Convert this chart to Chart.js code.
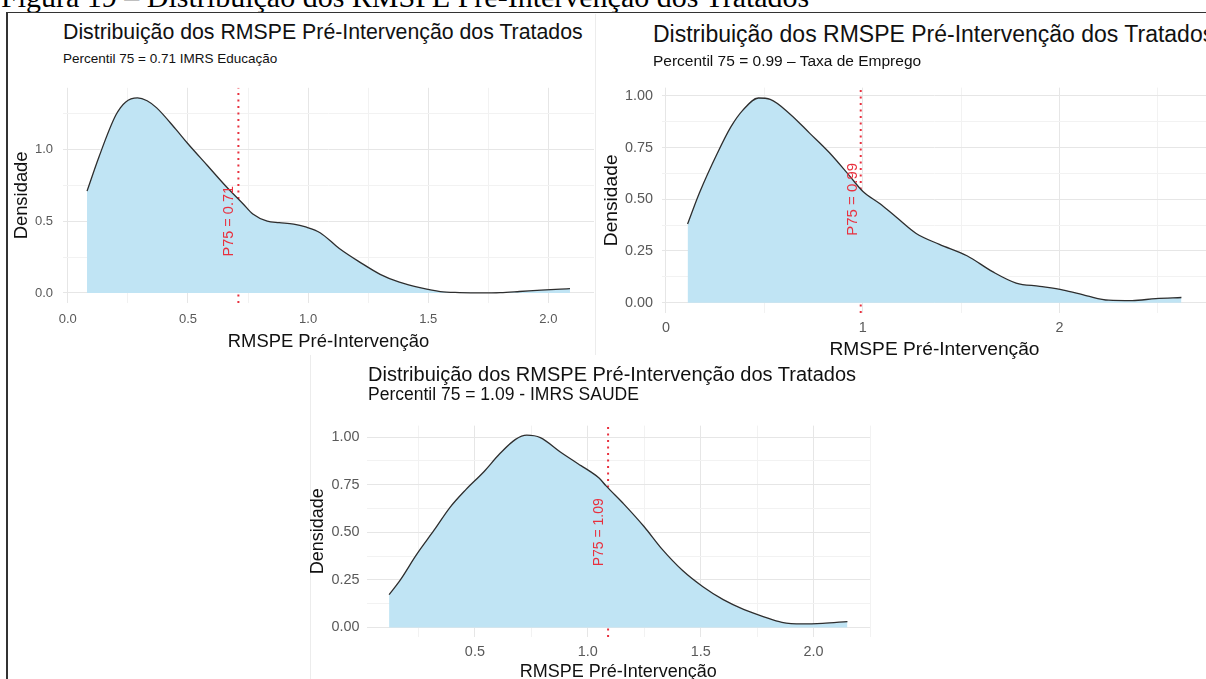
<!DOCTYPE html>
<html lang="pt-BR">
<head>
<meta charset="utf-8">
<title>Distribuição dos RMSPE Pré-Intervenção dos Tratados</title>
<script src="https://cdn.jsdelivr.net/npm/chart.js@4.4.1/dist/chart.umd.min.js"></script>
<style>
  html, body { margin: 0; padding: 0; background: #fff; overflow: hidden; width: 1206px; height: 679px; }
  body { position: relative; font-family: "Liberation Sans", Arial, sans-serif; }
  .heading { position: absolute; left: 1px; top: -18.5px; font: 30px/1 "Liberation Serif", "Times New Roman", serif; white-space: nowrap; color: #000; }
  .frame-top { position: absolute; left: 7px; top: 12px; width: 1199px; height: 0; border-top: 1.5px solid #333; }
  .frame-left { position: absolute; left: 6px; top: 12px; width: 0; height: 667px; border-left: 2px solid #333; }
  .edge { position: absolute; background: #ececec; }
  .title, .subtitle { position: absolute; white-space: nowrap; color: #111; line-height: 1; }
  canvas { position: absolute; }
</style>
</head>
<body>
<div class="heading">Figura 19 – Distribuição dos RMSPE Pré-Intervenção dos Tratados</div>
<div class="frame-top"></div>
<div class="frame-left"></div>
<div class="edge" style="left:595px; top:14px; width:1px; height:341px;"></div>
<div class="edge" style="left:310px; top:355px; width:1px; height:324px;"></div>

<div class="title" id="t1" style="left:63px; top:22px; font-size:21.3px;"></div>
<div class="subtitle" id="s1" style="left:63px; top:52px; font-size:13.5px;"></div>
<canvas id="c1" width="600" height="290" style="left:0; top:70px;"></canvas>

<div class="title" id="t2" style="left:653px; top:23px; font-size:23px;"></div>
<div class="subtitle" id="s2" style="left:653px; top:53px; font-size:15.5px;"></div>
<canvas id="c2" width="612" height="300" style="left:595px; top:70px;"></canvas>

<div class="title" id="t3" style="left:368px; top:364px; font-size:20px;"></div>
<div class="subtitle" id="s3" style="left:368px; top:386px; font-size:17.5px;"></div>
<canvas id="c3" width="575" height="280" style="left:305px; top:410px;"></canvas>

<script>
// densidade do RMSPE pré-intervenção - IMRS Educação
const eduX = [0.08, 0.13, 0.20, 0.24, 0.29, 0.33, 0.37, 0.45, 0.50, 0.58, 0.66, 0.73, 0.77, 0.83, 0.88, 0.94, 0.99,
  1.05, 1.13, 1.22, 1.30, 1.38, 1.47, 1.55, 1.63, 1.72, 1.80, 1.88, 1.97, 2.05, 2.09];
const eduY = [0.71, 0.95, 1.24, 1.33, 1.36, 1.34, 1.29, 1.14, 1.04, 0.89, 0.74, 0.62, 0.55, 0.50, 0.49, 0.48, 0.46,
  0.42, 0.31, 0.21, 0.13, 0.075, 0.035, 0.01, 0.003, 0.0, 0.002, 0.01, 0.02, 0.027, 0.03];

// densidade - Taxa de Emprego
const empX = [0.11, 0.17, 0.26, 0.33, 0.39, 0.47, 0.53, 0.63, 0.73, 0.83, 0.93, 1.00, 1.09, 1.17, 1.27, 1.39,
  1.53, 1.66, 1.78, 1.90, 2.02, 2.14, 2.25, 2.37, 2.49, 2.62];
const empY = [0.38, 0.53, 0.72, 0.85, 0.93, 0.99, 0.983, 0.913, 0.82, 0.726, 0.617, 0.539, 0.477, 0.414, 0.336, 0.282,
  0.227, 0.15, 0.095, 0.079, 0.061, 0.033, 0.012, 0.01, 0.02, 0.025];

// densidade - IMRS Saúde
const saudeX = [0.12, 0.17, 0.24, 0.32, 0.39, 0.46, 0.54, 0.61, 0.68, 0.73, 0.79, 0.88, 0.97, 1.01, 1.05, 1.08,
  1.16, 1.25, 1.33, 1.42, 1.51, 1.60, 1.69, 1.78, 1.86, 1.95, 2.04, 2.15];
const saudeY = [0.172, 0.25, 0.38, 0.512, 0.631, 0.724, 0.818, 0.912, 0.988, 1.01, 0.997, 0.92, 0.85, 0.82, 0.785, 0.745,
  0.648, 0.529, 0.41, 0.299, 0.214, 0.146, 0.095, 0.056, 0.027, 0.019, 0.022, 0.031];

// percentil 75 de cada distribuição
const p75Edu = 0.71;
const p75Emp = 0.99;
const p75Saude = 1.09;

// ticks principais e seus rótulos
const eduXTicks = [0, 0.5, 1, 1.5, 2];
const eduXLabels = ["0.0", "0.5", "1.0", "1.5", "2.0"];
const eduYTicks = [0, 0.5, 1];
const eduYLabels = ["0.0", "0.5", "1.0"];
const empXTicks = [0, 1, 2];
const empXLabels = ["0", "1", "2"];
const empYTicks = [0, 0.25, 0.5, 0.75, 1];
const empYLabels = ["0.00", "0.25", "0.50", "0.75", "1.00"];
const saudeXTicks = [0.5, 1, 1.5, 2];
const saudeXLabels = ["0.5", "1.0", "1.5", "2.0"];
const saudeYTicks = [0, 0.25, 0.5, 0.75, 1];
const saudeYLabels = ["0.00", "0.25", "0.50", "0.75", "1.00"];

const TITLE = "Distribuição dos RMSPE Pré-Intervenção dos Tratados";
const FILL = "#c0e4f4";
const LINE = "#2e2e2e";
const RED = "#e8303e";
const GRID_MAJOR = "#e6e6e6";
const GRID_MINOR = "#f2f2f2";
const TICK = "#595959";

// major + minor grid (meio passo)
const withMinor = (major, min, max) => {
  const step = major[1] - major[0];
  const out = [];
  for (let v = major[0] - step; v <= max + 1e-9; v += step / 2) {
    if (v >= min - 1e-9) out.push(+v.toFixed(4));
  }
  return out;
};
const findMajor = (major, v) => major.findIndex(m => Math.abs(m - v) < 1e-6);

// texto vertical "P75 = ..." ao lado da linha
const p75Label = {
  id: "p75Label",
  afterDatasetsDraw(chart, args, opts) {
    const { ctx, scales: { x, y } } = chart;
    ctx.save();
    ctx.translate(x.getPixelForValue(opts.value - 0.04), y.getPixelForValue(0.5));
    ctx.rotate(-Math.PI / 2);
    ctx.fillStyle = RED;
    ctx.font = `${opts.size}px "Liberation Sans", Arial, sans-serif`;
    ctx.textAlign = "center";
    ctx.textBaseline = "middle";
    ctx.fillText("P75 = " + opts.value.toFixed(2), 0, 0);
    ctx.restore();
  }
};

const axis = (p, major, labels, min, max, horizontal) => ({
  type: "linear",
  min, max,
  afterBuildTicks: s => { s.ticks = withMinor(major, min, max).map(v => ({ value: v })); },
  afterFit: s => {
    if (horizontal) s.height = p.xHeight; else s.width = p.yWidth;
  },
  grid: {
    drawTicks: false,
    lineWidth: 1,
    color: c => (c.tick && findMajor(major, c.tick.value) >= 0) ? GRID_MAJOR : GRID_MINOR
  },
  border: { display: false },
  ticks: {
    autoSkip: false,
    maxRotation: 0,
    color: TICK,
    font: { size: p.tickSize, family: "Liberation Sans" },
    padding: horizontal ? p.xTickPad : p.yTickPad,
    callback: v => { const i = findMajor(major, v); return i < 0 ? "" : labels[i]; }
  },
  title: {
    display: true,
    text: horizontal ? "RMSPE Pré-Intervenção" : "Densidade",
    color: "#111",
    font: { size: p.axisTitleSize, family: "Liberation Sans" },
    padding: horizontal ? { top: 0, bottom: p.xTitlePad } : { top: p.yTitlePad, bottom: 0 }
  }
});

const drawPanel = p => {
  document.getElementById(p.titleId).textContent = TITLE;
  document.getElementById(p.subId).textContent = p.subtitle;

  const curve = p.xs.map((x, i) => ({ x, y: p.ys[i] }));

  new Chart(document.getElementById(p.id), {
    type: "line",
    data: {
      datasets: [
        {
          data: curve,
          borderColor: LINE,
          borderWidth: 1.3,
          backgroundColor: FILL,
          fill: "origin",
          pointRadius: 0,
          cubicInterpolationMode: "monotone"
        },
        {
          data: [{ x: p.p75, y: p.yMin }, { x: p.p75, y: p.yMax }],
          borderColor: RED,
          borderWidth: 2,
          borderDash: [2, 4.5],
          pointRadius: 0,
          fill: false
        }
      ]
    },
    options: {
      responsive: false,
      animation: false,
      layout: { padding: { top: p.padTop, right: p.padRight, left: 0, bottom: 0 } },
      plugins: {
        legend: { display: false },
        tooltip: { enabled: false },
        p75Label: { value: p.p75, size: p.labelSize }
      },
      scales: {
        x: axis(p, p.xTicks, p.xLabels, p.xMin, p.xMax, true),
        y: axis(p, p.yTicks, p.yLabels, p.yMin, p.yMax, false)
      }
    },
    plugins: [p75Label]
  });
};

drawPanel({
  id: "c1", titleId: "t1", subId: "s1",
  subtitle: `Percentil 75 = ${p75Edu.toFixed(2)} IMRS Educação`,
  xs: eduX, ys: eduY, p75: p75Edu,
  xTicks: eduXTicks, xLabels: eduXLabels, yTicks: eduYTicks, yLabels: eduYLabels,
  xMin: -0.02, xMax: 2.19, yMin: -0.07, yMax: 1.43,
  padTop: 7, padRight: 6, yWidth: 63, xHeight: 57,
  tickSize: 13, axisTitleSize: 18.4, labelSize: 14.5,
  xTickPad: 9, yTickPad: 10, yTitlePad: 11, xTitlePad: 7
});

drawPanel({
  id: "c2", titleId: "t2", subId: "s2",
  subtitle: `Percentil 75 = ${p75Emp.toFixed(2)} – Taxa de Emprego`,
  xs: empX, ys: empY, p75: p75Emp,
  xTicks: empXTicks, xLabels: empXLabels, yTicks: empYTicks, yLabels: empYLabels,
  xMin: -0.02, xMax: 2.75, yMin: -0.05, yMax: 1.04,
  padTop: 9, padRight: 0, yWidth: 67, xHeight: 57,
  tickSize: 14.4, axisTitleSize: 19.2, labelSize: 15,
  xTickPad: 6.4, yTickPad: 9, yTitlePad: 5.5, xTitlePad: 8.5
});

drawPanel({
  id: "c3", titleId: "t3", subId: "s3",
  subtitle: `Percentil 75 = ${p75Saude.toFixed(2)} - IMRS SAUDE`,
  xs: saudeX, ys: saudeY, p75: p75Saude,
  xTicks: saudeXTicks, xLabels: saudeXLabels, yTicks: saudeYTicks, yLabels: saudeYLabels,
  xMin: 0.02, xMax: 2.25, yMin: -0.05, yMax: 1.06,
  padTop: 11, padRight: 10, yWidth: 61.5, xHeight: 53,
  tickSize: 14.4, axisTitleSize: 18, labelSize: 14,
  xTickPad: 6.4, yTickPad: 7, yTitlePad: 2.2, xTitlePad: 7.2
});
</script>
</body>
</html>
